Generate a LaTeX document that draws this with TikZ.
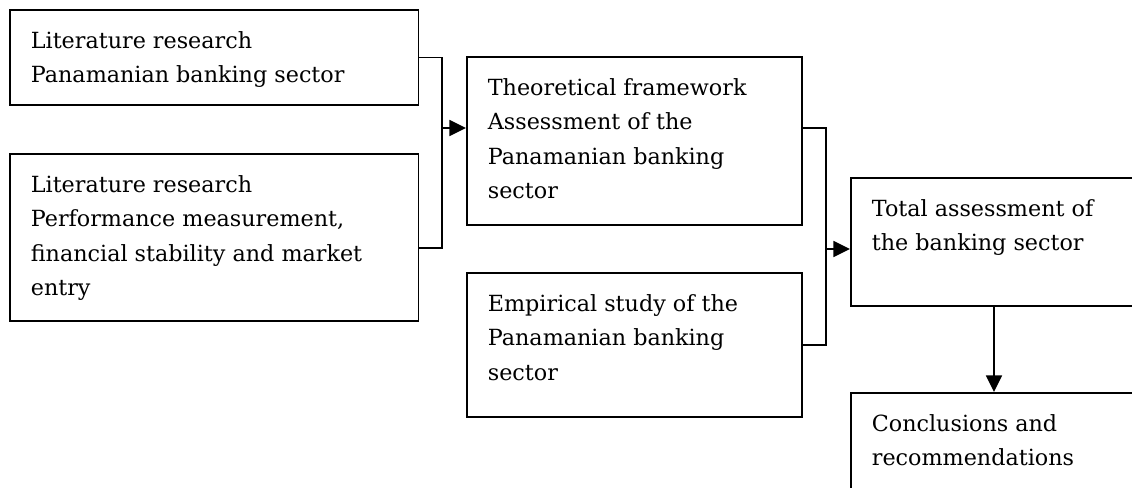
\documentclass[tikz,border=0pt]{standalone}
\usepackage{fontspec}
\setmainfont{DejaVu Serif}
\usetikzlibrary{arrows.meta}
\newcommand{\boxtext}[3]{\parbox[c][#2][t]{#1}{\raggedright\strut #3}}
\begin{document}
\begin{tikzpicture}[x=0.75pt, y=-0.75pt, line width=1.3pt, >={Triangle[length=12.5pt,width=12pt]},
    stage/.style = {draw, anchor=north west, inner xsep=15.75pt, inner ysep=10.5pt,
      font=\fontsize{16.7pt}{25.9pt}\selectfont}]
    \useasboundingbox (0,0) rectangle (1132,487);
    \clip (0,0) rectangle (1132,487);
    \node[stage] (lit1) at (9,9) {\boxtext{275pt}{50.25pt}{Literature research\\Panamanian banking sector}};
    \node[stage] (lit2) at (9,153) {\boxtext{275pt}{104.25pt}{Literature research\\Performance measurement,\\financial stability and market\\entry}};
    \node[stage] (theo) at (466,56) {\boxtext{220pt}{105pt}{Theoretical framework\\Assessment of the\\Panamanian banking\\sector}};
    \node[stage] (emp) at (466,272) {\boxtext{220pt}{87pt}{Empirical study of the\\Panamanian banking\\sector}};
    \node[stage] (total) at (850,177) {\boxtext{190pt}{75pt}{Total assessment of\\the banking sector}};
    \node[stage] (concl) at (850,392) {\boxtext{190pt}{100pt}{Conclusions and\\recommendations}};
    %joins
    \coordinate (j1) at (442,128);
    \coordinate (j2) at (826,249);
    \draw (lit1.east) -| (j1);
    \draw (lit2.east |- 0,248) -| (j1);
    \draw (theo.east |- j1) -| (j2);
    \draw (emp.east) -| (j2);
    %arrows
    \draw[->] (j1) -- (theo.west |- j1);
    \draw[->] (j2) -- (total.west |- j2);
    \draw[->] (total.south -| 994,0) -- (concl.north -| 994,0);
\end{tikzpicture}
\end{document}
